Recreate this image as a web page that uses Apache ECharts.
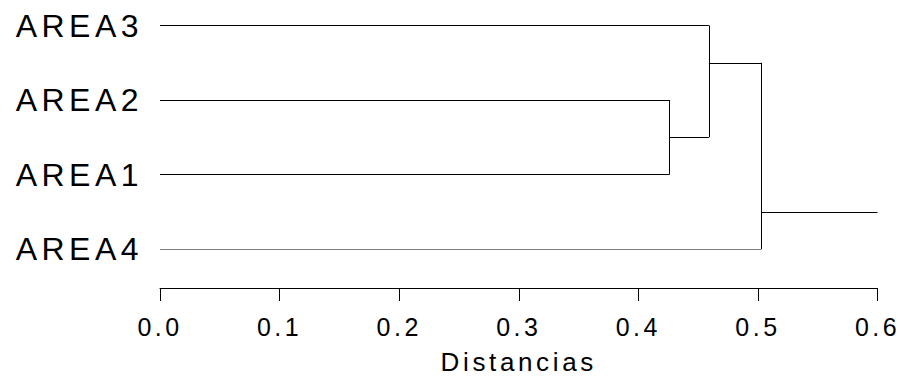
<!DOCTYPE html>
<html>
<head>
<meta charset="utf-8">
<script src="https://cdn.jsdelivr.net/npm/echarts@6/dist/echarts.min.js"></script>
<style>
    html, body { margin: 0; padding: 0; background: #fff; }
    #chart { width: 901px; height: 380px; }
    /* R-style spaced lettering */
    #chart text { letter-spacing: 0.14em; }
</style>
</head>
<body>
<div id="chart"></div>
<script>
(function () {
    'use strict';

    // Leaves, bottom to top (y position = index)
    var leafNames = ['AREA4', 'AREA1', 'AREA2', 'AREA3'];

    // Merge steps: children are leaf names or earlier merge indices
    var mergeChildren = [['AREA2', 'AREA1'], ['AREA3', 0], [1, 'AREA4']];
    var mergeHeights = [0.426, 0.459, 0.503];
    // y position where each cluster's branch leaves the join
    var mergeY = [1.5, 2.5, 0.5];
    var rootEnd = 0.6;

    function childPos(c) {
        if (typeof c === 'string') return { x: 0, y: leafNames.indexOf(c) };
        return { x: mergeHeights[c], y: mergeY[c] };
    }

    /** Build elbow segments for the dendrogram. */
    var segments = [];
    mergeChildren.forEach(function (pair, i) {
        var h = mergeHeights[i];
        var a = childPos(pair[0]), b = childPos(pair[1]);
        segments.push({ coords: [[a.x, a.y], [h, a.y]] });
        segments.push({ coords: [[b.x, b.y], [h, b.y]] });
        segments.push({ coords: [[h, a.y], [h, b.y]] });
    });
    var last = mergeHeights.length - 1;
    segments.push({ coords: [[mergeHeights[last], mergeY[last]], [rootEnd, mergeY[last]]] });

    var chart = echarts.init(document.getElementById('chart'), null, { renderer: 'svg' });
    var font = '"Liberation Sans", Arial, Helvetica, sans-serif';

    chart.setOption({
        animation: false,
        backgroundColor: '#fff',
        grid: { left: 160, right: 23.5, top: 25.5, bottom: 127, containLabel: false },
        xAxis: {
            type: 'value',
            min: 0,
            max: 0.6,
            interval: 0.1,
            offset: 39,
            name: 'Distancias',
            nameLocation: 'middle',
            nameGap: 61,
            nameTextStyle: { color: '#000', fontSize: 26, fontFamily: font },
            axisLine: { show: true, onZero: false, lineStyle: { color: '#000', width: 1 } },
            axisTick: { show: true, length: 13, inside: false, lineStyle: { color: '#000' } },
            axisLabel: {
                margin: 26,
                color: '#000',
                fontSize: 25,
                fontFamily: font,
                formatter: function (v) { return v.toFixed(1); }
            },
            splitLine: { show: false }
        },
        yAxis: {
            type: 'value',
            min: 0,
            max: leafNames.length - 1,
            interval: 1,
            axisLine: { show: false },
            axisTick: { show: false },
            splitLine: { show: false },
            axisLabel: {
                margin: 17,
                color: '#000',
                fontSize: 32,
                fontFamily: font,
                formatter: function (v) { return leafNames[v] || ''; }
            }
        },
        series: [{
            type: 'lines',
            coordinateSystem: 'cartesian2d',
            polyline: false,
            silent: true,
            lineStyle: { color: '#000', width: 1, opacity: 1 },
            data: segments
        }]
    });
})();
</script>
</body>
</html>
